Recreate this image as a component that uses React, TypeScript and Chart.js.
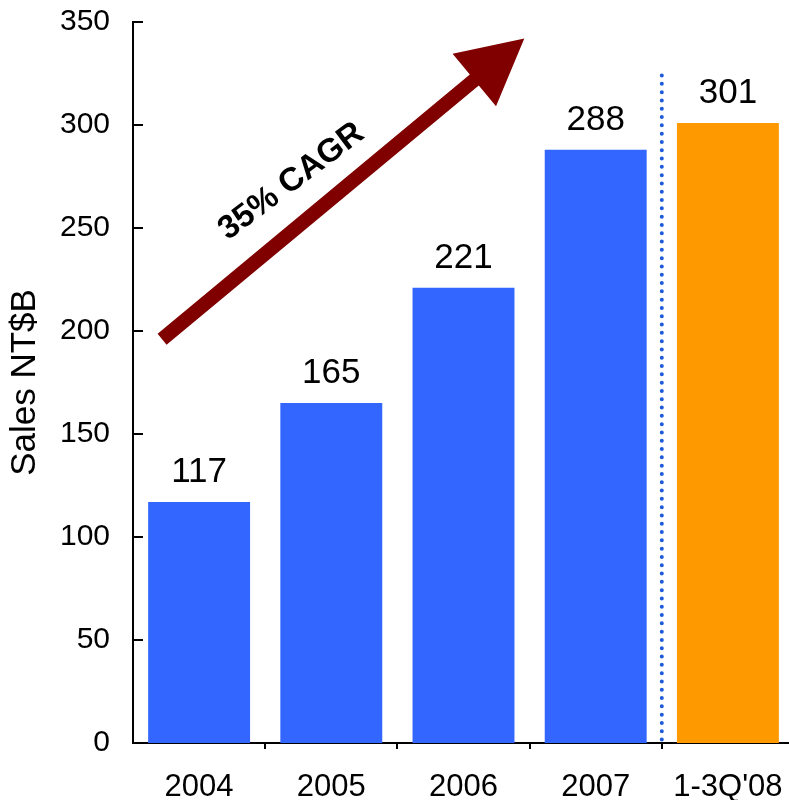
import React, { useEffect, useRef } from "react";
import { Chart, registerables } from "chart.js";

Chart.register(...registerables);

const FONT = "'Liberation Sans', Arial, Helvetica, sans-serif";

// Annual sales, NT$ billions
const categories = ["2004", "2005", "2006", "2007", "1-3Q'08"];
const salesValues = [117, 165, 221, 288, 301];
const barColors = ["#3366FF", "#3366FF", "#3366FF", "#3366FF", "#FF9900"];
const yTickValues = [0, 50, 100, 150, 200, 250, 300, 350];
const yAxisTitle = "Sales NT$B";
const growthLabel = "35% CAGR";

// Growth arrow, anchored in (category index, value) space
const arrowStart = [-0.28, 196];
const arrowTip = [2.46, 342];
const growthLabelAnchor = [0.74, 269];
const growthLabelAngle = -37;

// Dotted divider between full years and the partial year
const dividerAfterIndex = 3;
const dividerTopValue = 324;

const annotationsPlugin = {
  id: "salesAnnotations",
  afterDatasetsDraw(chart: any) {
    const { ctx } = chart;
    const xs = chart.scales.x;
    const ys = chart.scales.y;
    const area = chart.chartArea;

    ctx.save();

    // inward tick marks on the value axis
    ctx.strokeStyle = "#000";
    ctx.lineWidth = 2;
    yTickValues.forEach((v) => {
      const py = Math.round(ys.getPixelForValue(v));
      ctx.beginPath();
      ctx.moveTo(area.left, py);
      ctx.lineTo(area.left + 10, py);
      ctx.stroke();
    });

    // value labels above bars
    const meta = chart.getDatasetMeta(0);
    ctx.fillStyle = "#000";
    ctx.font = `35px ${FONT}`;
    ctx.textAlign = "center";
    ctx.textBaseline = "alphabetic";
    meta.data.forEach((bar: any, i: number) => {
      ctx.fillText(String(salesValues[i]), bar.x, bar.y - 20);
    });

    // dotted divider
    const dx =
      (xs.getPixelForValue(dividerAfterIndex) + xs.getPixelForValue(dividerAfterIndex + 1)) / 2;
    ctx.beginPath();
    ctx.strokeStyle = "#1E5BD8";
    ctx.lineWidth = 4;
    ctx.lineCap = "round";
    ctx.setLineDash([0, 8.3]);
    ctx.moveTo(dx, ys.getPixelForValue(dividerTopValue));
    ctx.lineTo(dx, ys.getPixelForValue(0));
    ctx.stroke();
    ctx.setLineDash([]);

    // growth arrow
    const x0 = xs.getPixelForValue(arrowStart[0]);
    const y0 = ys.getPixelForValue(arrowStart[1]);
    const x1 = xs.getPixelForValue(arrowTip[0]);
    const y1 = ys.getPixelForValue(arrowTip[1]);
    const len = Math.hypot(x1 - x0, y1 - y0);
    const ux = (x1 - x0) / len;
    const uy = (y1 - y0) / len;
    const nx = -uy;
    const ny = ux;
    const headLen = 65;
    const headHalf = 34;
    const shaftHalf = 7;
    const bx = x1 - ux * headLen;
    const by = y1 - uy * headLen;
    ctx.beginPath();
    ctx.moveTo(x0 + nx * shaftHalf, y0 + ny * shaftHalf);
    ctx.lineTo(bx + nx * shaftHalf, by + ny * shaftHalf);
    ctx.lineTo(bx + nx * headHalf, by + ny * headHalf);
    ctx.lineTo(x1, y1);
    ctx.lineTo(bx - nx * headHalf, by - ny * headHalf);
    ctx.lineTo(bx - nx * shaftHalf, by - ny * shaftHalf);
    ctx.lineTo(x0 - nx * shaftHalf, y0 - ny * shaftHalf);
    ctx.closePath();
    ctx.fillStyle = "#800000";
    ctx.fill();

    // growth label
    const lx = xs.getPixelForValue(growthLabelAnchor[0]);
    const ly = ys.getPixelForValue(growthLabelAnchor[1]);
    ctx.translate(lx, ly);
    ctx.rotate((growthLabelAngle * Math.PI) / 180);
    ctx.fillStyle = "#000";
    ctx.font = `bold 33px ${FONT}`;
    ctx.textAlign = "center";
    ctx.textBaseline = "alphabetic";
    ctx.fillText(growthLabel, 0, 0);

    ctx.restore();
  },
};

export default function App() {
  const canvasRef = useRef<HTMLCanvasElement | null>(null);

  useEffect(() => {
    if (!canvasRef.current) return;
    Chart.defaults.font.family = FONT;
    const chart = new Chart(canvasRef.current, {
      type: "bar",
      data: {
        labels: categories,
        datasets: [
          {
            data: salesValues,
            backgroundColor: barColors,
            borderWidth: 0,
            categoryPercentage: 1,
            barPercentage: 0.771,
          },
        ],
      },
      options: {
        responsive: false,
        animation: false,
        devicePixelRatio: 1,
        layout: { padding: { top: 22, right: 6, left: 0, bottom: 0 } },
        plugins: {
          legend: { display: false },
          tooltip: { enabled: false },
        },
        scales: {
          x: {
            type: "category",
            offset: true,
            grid: {
              display: true,
              drawOnChartArea: false,
              drawTicks: true,
              tickLength: 6,
              offset: true,
              color: (c: any) => (c.index === 0 ? "rgba(0,0,0,0)" : "#000"),
              lineWidth: 2,
            },
            border: { display: true, color: "#000", width: 2 },
            ticks: {
              color: "#000",
              font: { size: 31, family: FONT },
              padding: 20,
              maxRotation: 0,
              autoSkip: false,
            },
            afterFit: (s: any) => {
              s.height = 57;
              s.paddingLeft = 0;
              s.paddingRight = 0;
            },
          },
          y: {
            min: 0,
            max: 350,
            grid: { display: false, drawTicks: false },
            border: { display: true, color: "#000", width: 2 },
            ticks: {
              stepSize: 50,
              color: "#000",
              font: { size: 30, family: FONT },
              padding: 23,
            },
            title: {
              display: true,
              text: yAxisTitle,
              color: "#000",
              font: { size: 35, family: FONT },
              padding: { top: 4, bottom: 0 },
            },
            afterFit: (s: any) => {
              s.width = 133;
              s.paddingTop = 0;
              s.paddingBottom = 0;
            },
          },
        },
      },
      plugins: [annotationsPlugin],
    });
    return () => chart.destroy();
  }, []);

  return (
    <div
      style={{
        position: "absolute",
        left: 0,
        top: 0,
        width: 789,
        height: 800,
        overflow: "hidden",
        background: "#fff",
      }}
    >
      <canvas
        ref={canvasRef}
        width={800}
        height={800}
        style={{ display: "block", width: 800, height: 800 }}
      />
    </div>
  );
}
